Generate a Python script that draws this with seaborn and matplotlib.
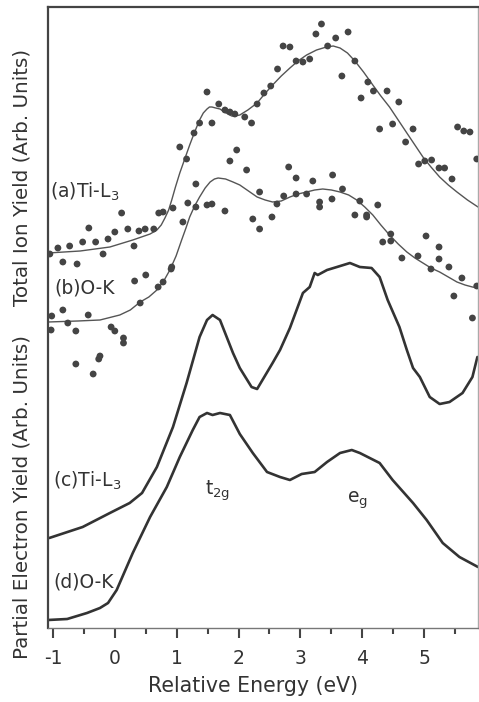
import matplotlib
matplotlib.use("Agg")
import matplotlib.pyplot as plt
import seaborn as sns
from matplotlib.ticker import MultipleLocator

# ---------------- data (x: relative energy eV, y: arbitrary units) ----------------
tiy_ti_x = [-1.05, -0.92, -0.84, -0.73, -0.61, -0.52, -0.42, -0.31, -0.19, -0.11, 0.00, 0.11,
            0.21, 0.31, 0.39, 0.49, 0.63, 0.71, 0.78, 0.94, 1.05, 1.16, 1.28, 1.37, 1.49, 1.57,
            1.68, 1.78, 1.86, 1.94, 2.10, 2.21, 2.30, 2.41, 2.52, 2.63, 2.72, 2.83, 2.93, 3.04,
            3.15, 3.25, 3.34, 3.44, 3.57, 3.67, 3.77, 3.88, 3.98, 4.09, 4.18, 4.28, 4.40, 4.49,
            4.59, 4.70, 4.82, 4.91, 5.01, 5.12, 5.24, 5.33, 5.45, 5.54, 5.64, 5.74, 5.85]
tiy_ti_y = [3.74, 3.80, 3.66, 3.82, 3.64, 3.86, 4.00, 3.86, 3.74, 3.89, 3.96, 4.15,
            3.99, 3.82, 3.97, 3.99, 3.99, 4.15, 4.16, 4.20, 4.81, 4.69, 4.95, 5.05, 5.36, 5.05,
            5.24, 5.18, 5.16, 5.14, 5.11, 5.05, 5.24, 5.35, 5.42, 5.59, 5.82, 5.81, 5.67, 5.66,
            5.69, 5.94, 6.04, 5.82, 5.90, 5.52, 5.96, 5.67, 5.30, 5.46, 5.37, 4.99, 5.37, 5.04,
            5.26, 4.86, 4.99, 4.64, 4.67, 4.68, 4.60, 4.60, 4.49, 5.01, 4.97, 4.96, 4.69]

tiy_o_x = [-1.03, -1.02, -0.84, -0.76, -0.63, -0.63, -0.43, -0.35, -0.26, -0.24, -0.06, 0.00,
           0.14, 0.14, 0.32, 0.41, 0.50, 0.70, 0.78, 0.91, 0.92, 1.10, 1.18, 1.31, 1.31, 1.49,
           1.57, 1.78, 1.86, 1.97, 2.13, 2.23, 2.34, 2.34, 2.54, 2.62, 2.73, 2.81, 2.93, 2.93,
           3.10, 3.20, 3.31, 3.31, 3.51, 3.52, 3.68, 3.88, 3.96, 4.07, 4.07, 4.25, 4.33, 4.46,
           4.46, 4.64, 4.90, 5.03, 5.11, 5.24, 5.24, 5.40, 5.48, 5.61, 5.78, 5.85]
tiy_o_y = [2.98, 3.12, 3.18, 3.05, 2.97, 2.64, 3.13, 2.54, 2.69, 2.72, 3.01, 2.97,
           2.90, 2.85, 3.47, 3.25, 3.53, 3.41, 3.46, 3.59, 3.61, 4.06, 4.25, 4.44, 4.21, 4.23,
           4.24, 4.17, 4.67, 4.78, 4.58, 4.09, 4.36, 3.99, 4.11, 4.24, 4.32, 4.61, 4.50, 4.34,
           4.34, 4.47, 4.26, 4.21, 4.29, 4.53, 4.39, 4.13, 4.27, 4.13, 4.11, 4.23, 3.86, 3.94,
           3.87, 3.70, 3.72, 3.92, 3.59, 3.81, 3.69, 3.61, 3.32, 3.50, 3.10, 3.42]

fit_ti_x = [-1.08, -0.56, -0.08, 0.29, 0.57, 0.68, 0.75, 0.81, 0.87, 0.92, 0.98, 1.05, 1.13,
            1.21, 1.29, 1.37, 1.43, 1.49, 1.53, 1.57, 1.63, 1.70, 1.77, 1.83, 1.89, 1.94, 2.02,
            2.15, 2.30, 2.42, 2.55, 2.69, 2.83, 2.96, 3.10, 3.26, 3.42, 3.53, 3.64, 3.76, 3.88,
            4.02, 4.17, 4.30, 4.44, 4.58, 4.72, 4.85, 4.98, 5.11, 5.25, 5.39, 5.53, 5.70, 5.87]
fit_ti_y = [3.75, 3.77, 3.81, 3.88, 3.94, 3.98, 4.03, 4.10, 4.18, 4.28, 4.41, 4.55, 4.69,
            4.83, 4.96, 5.08, 5.15, 5.19, 5.21, 5.21, 5.20, 5.19, 5.16, 5.14, 5.12, 5.12, 5.13,
            5.18, 5.25, 5.34, 5.43, 5.52, 5.60, 5.67, 5.73, 5.78, 5.81, 5.82, 5.80, 5.75, 5.67,
            5.56, 5.43, 5.32, 5.21, 5.08, 4.95, 4.83, 4.71, 4.61, 4.51, 4.43, 4.36, 4.28, 4.21]

fit_o_x = [-1.08, -0.60, -0.24, 0.08, 0.25, 0.41, 0.55, 0.68, 0.79, 0.89, 0.99, 1.08, 1.15,
           1.21, 1.29, 1.37, 1.46, 1.54, 1.61, 1.67, 1.79, 1.91, 2.02, 2.16, 2.30, 2.43, 2.55,
           2.69, 2.83, 2.96, 3.10, 3.23, 3.36, 3.50, 3.64, 3.78, 3.91, 4.04, 4.17, 4.30, 4.44,
           4.58, 4.72, 4.85, 4.98, 5.11, 5.25, 5.39, 5.53, 5.66, 5.78, 5.87]
fit_o_y = [3.06, 3.07, 3.08, 3.13, 3.18, 3.26, 3.31, 3.38, 3.47, 3.58, 3.72, 3.88, 4.00,
           4.11, 4.22, 4.31, 4.40, 4.46, 4.49, 4.50, 4.49, 4.46, 4.43, 4.37, 4.31, 4.28, 4.26,
           4.27, 4.31, 4.34, 4.36, 4.38, 4.39, 4.38, 4.36, 4.33, 4.28, 4.21, 4.13, 4.03, 3.93,
           3.84, 3.76, 3.70, 3.65, 3.60, 3.56, 3.51, 3.46, 3.43, 3.41, 3.40]

pey_ti_x = [-1.06, -0.52, -0.08, 0.24, 0.44, 0.68, 0.94, 1.16, 1.37, 1.49, 1.58, 1.70, 1.91,
            2.02, 2.21, 2.30, 2.55, 2.67, 2.83, 3.04, 3.15, 3.23, 3.28, 3.43, 3.59, 3.80, 3.96,
            4.15, 4.28, 4.41, 4.60, 4.72, 4.82, 4.93, 5.09, 5.25, 5.41, 5.62, 5.78, 5.86]
pey_ti_y = [0.90, 1.01, 1.15, 1.25, 1.35, 1.61, 2.01, 2.45, 2.91, 3.08, 3.13, 3.08, 2.75,
            2.60, 2.41, 2.39, 2.65, 2.78, 3.00, 3.35, 3.41, 3.55, 3.53, 3.58, 3.61, 3.65, 3.61,
            3.60, 3.51, 3.28, 3.01, 2.78, 2.60, 2.51, 2.31, 2.24, 2.26, 2.35, 2.51, 2.71]

pey_o_x = [-1.08, -0.77, -0.45, -0.24, -0.11, 0.03, 0.29, 0.57, 0.84, 1.05, 1.26, 1.37, 1.49,
           1.58, 1.70, 1.86, 2.02, 2.23, 2.46, 2.67, 2.83, 3.02, 3.23, 3.43, 3.64, 3.83, 3.96,
           4.28, 4.49, 4.82, 5.04, 5.30, 5.57, 5.87]
pey_o_y = [0.08, 0.09, 0.15, 0.20, 0.25, 0.38, 0.75, 1.11, 1.41, 1.71, 1.98, 2.11, 2.15,
           2.13, 2.15, 2.13, 1.94, 1.75, 1.56, 1.51, 1.48, 1.54, 1.56, 1.66, 1.75, 1.78, 1.75,
           1.65, 1.48, 1.25, 1.08, 0.85, 0.71, 0.61]

xticks = [-1, 0, 1, 2, 3, 4, 5]
xtick_labels = ["-1", "0", "1", "2", "3", "4", "5"]

# ---------------- style ----------------
sns.set_theme(style="white")
plt.rcParams["font.family"] = ["DejaVu Sans"]
plt.rcParams["mathtext.fontset"] = "dejavusans"
plt.rcParams["axes.unicode_minus"] = False

txt = "#333333"
fig = plt.figure(figsize=(4.79, 7.02), dpi=100)
ax = fig.add_axes([48 / 479, 74 / 702, 430 / 479, 621 / 702])

dot_col = "#444444"
sns.scatterplot(x=tiy_ti_x, y=tiy_ti_y, ax=ax, color=dot_col, s=24, edgecolor="none", zorder=3)
sns.scatterplot(x=tiy_o_x, y=tiy_o_y, ax=ax, color=dot_col, s=24, edgecolor="none", zorder=3)
sns.lineplot(x=fit_ti_x, y=fit_ti_y, ax=ax, color="#555555", lw=1.0, sort=False)
sns.lineplot(x=fit_o_x, y=fit_o_y, ax=ax, color="#555555", lw=1.0, sort=False)
sns.lineplot(x=pey_ti_x, y=pey_ti_y, ax=ax, color="#333333", lw=1.9, sort=False)
sns.lineplot(x=pey_o_x, y=pey_o_y, ax=ax, color="#333333", lw=1.9, sort=False)

ax.set_xlim(-1.08, 5.87)
ax.set_ylim(0, 6.21)
ax.set_xticks(xticks)
ax.set_xticklabels(xtick_labels)
ax.xaxis.set_minor_locator(MultipleLocator(0.5))
ax.set_yticks([])
ax.tick_params(axis="x", which="major", direction="out", length=7, width=1.5,
               colors="#444444", labelsize=13.5, pad=8, bottom=True)
ax.tick_params(axis="x", which="minor", direction="out", length=4, width=1.5,
               colors="#444444", bottom=True)
for lab in ax.get_xticklabels():
    lab.set_color(txt)

for side, c, w in [("left", "#444444", 1.6), ("top", "#444444", 1.6),
                   ("bottom", "#777777", 1.0), ("right", "#aaaaaa", 1.0)]:
    ax.spines[side].set_visible(True)
    ax.spines[side].set_color(c)
    ax.spines[side].set_linewidth(w)

fs = 13.5
ax.text(-1.05, 4.30, "(a)Ti-L$_3$", fontsize=fs, color=txt, va="baseline")
ax.text(-0.97, 3.35, "(b)O-K", fontsize=fs, color=txt, va="baseline")
ax.text(-1.00, 1.41, "(c)Ti-L$_3$", fontsize=fs, color=txt, va="baseline")
ax.text(-1.00, 0.40, "(d)O-K", fontsize=fs, color=txt, va="baseline")
ax.text(1.46, 1.33, r"t$_{\mathrm{2g}}$", fontsize=fs, color=txt, va="baseline")
ax.text(3.75, 1.25, r"e$_{\mathrm{g}}$", fontsize=fs, color=txt, va="baseline")

fig.text(22 / 479, 1 - 177 / 702, "Total Ion Yield (Arb. Units)", rotation=90,
         ha="center", va="center", fontsize=14.3, color=txt)
fig.text(22 / 479, 1 - 497 / 702, "Partial Electron Yield (Arb. Units)", rotation=90,
         ha="center", va="center", fontsize=14.3, color=txt)
fig.text(253 / 479, 1 - 686 / 702, "Relative Energy (eV)", ha="center", va="center",
         fontsize=14.8, color=txt)

fig.savefig("out.png", dpi=100)
